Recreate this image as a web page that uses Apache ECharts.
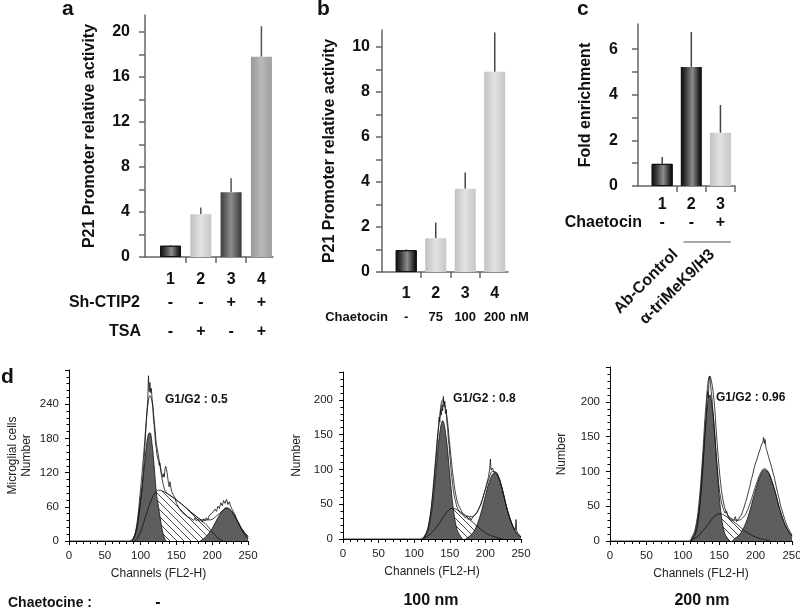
<!DOCTYPE html>
<html><head><meta charset="utf-8">
<script src="https://cdn.jsdelivr.net/npm/echarts@6/dist/echarts.min.js"></script>
<style>html,body{margin:0;padding:0;background:#fff}#c{width:800px;height:610px}</style>
</head><body><div id="c"></div>
<script>
// ---------- Panel a ----------
const aCats = ['1','2','3','4'];
const aVals = [1.0, 3.8, 5.75, 17.8];
const aErr  = [1.05, 4.4, 7.0, 20.5];
const aShCtip2 = ['-','-','+','+'];
const aTsa = ['-','+','-','+'];
const aYTicks = [0,2,4,6,8,10,12,14,16,18,20];
const aYLabels = [0,4,8,12,16,20];
// ---------- Panel b ----------
const bCats = ['1','2','3','4'];
const bVals = [0.97, 1.5, 3.7, 8.9];
const bErr  = [1.0, 2.2, 4.42, 10.65];
const bDose = ['-','75','100','200'];
const bYTicks = [0,1,2,3,4,5,6,7,8,9,10];
const bYLabels = [0,2,4,6,8,10];
// ---------- Panel c ----------
const cCats = ['1','2','3'];
const cVals = [0.97, 5.22, 2.33];
const cErr  = [1.27, 6.75, 3.55];
const cChaet = ['-','-','+'];
const cAb = ['Ab-Control','α-triMeK9/H3'];
const cYTicks = [0,1,2,3,4,5,6];
const cYLabels = [0,2,4,6];
// ---------- Panel d (cell cycle histograms) ----------
const dXTicks = [0,50,100,150,200,250];
const d1Raw = [[0,0],[85,0],[88,2],[90,5],[92,10],[94,18],[96,30],[98,48],[100,68],[102,92],[104,125],[106,165],[108,210],[110,248],[111,290],[112,262],[113,278],[114,260],[115,268],[116,250],[117,238],[118,212],[119,202],[120,186],[121,170],[122,162],[123,150],[124,153],[125,140],[126,133],[127,137],[128,128],[129,122],[130,116],[131,112],[132,118],[133,112],[134,126],[135,131],[136,127],[137,120],[138,110],[139,101],[140,95],[141,104],[142,97],[143,88],[144,91],[146,80],[148,76],[150,66],[152,63],[154,57],[156,56],[158,50],[160,53],[162,46],[164,49],[166,42],[168,45],[170,40],[172,43],[174,36],[176,41],[178,35],[180,39],[182,34],[184,38],[186,33],[188,39],[190,35],[192,41],[194,37],[196,45],[198,42],[200,49],[202,46],[204,56],[206,52],[208,61],[210,57],[212,67],[214,62],[216,71],[218,66],[220,73],[222,64],[224,69],[226,60],[228,57],[230,50],[232,46],[234,38],[236,35],[238,28],[240,23],[242,18],[244,14],[246,10],[248,7],[250,4]];
const d1G1 = [[88,0],[90,4],[93,15],[96,35],[99,65],[102,95],[105,128],[108,165],[111,188],[113,190],[116,170],[119,130],[122,85],[125,60],[128,35],[131,15],[134,3],[136,0]];
const d1S = [[92,0],[96,6],[100,16],[105,35],[110,55],[115,72],[120,84],[125,89],[130,88],[140,81],[150,72],[160,62],[170,51],[180,41],[190,31],[195,24],[200,16],[205,9],[210,3],[215,0]];
const d1G2 = [[183,0],[186,2],[190,6],[195,13],[200,22],[205,34],[210,45],[215,54],[220,58],[225,55],[230,47],[235,36],[240,24],[245,15],[250,8]];
const d1Fit = [[88,0],[90,4],[93,17],[96,41],[99,79],[102,119],[105,163],[108,212],[111,247],[113,255],[116,244],[119,212],[122,171],[125,149],[128,124],[131,103],[134,89],[137,84],[140,81],[150,72],[160,62],[170,51],[180,41],[185,37],[190,37],[195,37],[200,38],[205,43],[210,48],[215,54],[220,58],[225,55],[230,47],[235,36],[240,24],[245,15],[250,8]];

const d2Raw = [[0,0],[110,0],[113,2],[115,4],[118,10],[120,18],[122,30],[124,45],[126,66],[128,90],[130,115],[132,140],[134,160],[135,175],[136,168],[137,186],[138,178],[139,193],[140,184],[141,205],[142,190],[143,198],[144,180],[145,186],[146,166],[147,160],[148,142],[149,135],[150,120],[151,110],[152,96],[153,88],[154,78],[155,70],[156,64],[157,58],[158,55],[159,50],[160,46],[162,42],[164,38],[166,40],[168,35],[170,33],[172,30],[174,33],[176,28],[178,31],[180,27],[182,31],[184,34],[186,32],[188,38],[190,42],[192,40],[194,50],[196,57],[198,65],[200,72],[202,80],[204,88],[206,100],[207,115],[208,99],[210,102],[212,96],[214,98],[216,95],[218,90],[220,86],[222,78],[224,71],[226,62],[228,53],[230,45],[232,38],[234,31],[236,25],[238,20],[240,16],[242,13],[243,28],[244,11],[246,8],[248,6],[250,3]];
const d2G1 = [[113,0],[115,4],[120,14],[125,43],[130,92],[135,145],[140,170],[145,145],[150,92],[155,43],[160,14],[165,4],[168,0]];
const d2S = [[110,0],[120,5],[130,15],[140,30],[150,43],[155,44],[160,42],[170,35],[180,26],[190,17],[200,9],[210,4],[220,1],[225,0]];
const d2G2 = [[172,0],[175,2],[180,6],[185,13],[190,25],[195,42],[200,62],[205,81],[210,93],[213,95],[215,94],[220,84],[225,66],[230,45],[235,28],[240,15],[245,7],[250,3]];
const d2Fit = [[113,0],[115,4],[120,19],[125,53],[130,107],[135,167],[140,200],[145,182],[150,135],[155,87],[160,56],[165,43],[170,35],[175,33],[180,32],[185,34],[190,42],[195,55],[200,71],[205,87],[210,97],[215,96],[220,85],[225,66],[230,45],[235,28],[240,15],[245,7],[250,3]];

const d3Raw = [[0,0],[110,0],[112,2],[115,5],[118,12],[120,20],[122,35],[124,55],[126,80],[128,110],[130,145],[132,175],[133,200],[134,215],[135,205],[136,230],[137,237],[138,225],[139,215],[140,206],[141,190],[142,181],[143,165],[144,150],[145,136],[146,125],[147,110],[148,98],[149,86],[150,76],[151,68],[152,62],[153,56],[154,52],[155,48],[156,45],[158,40],[160,43],[162,36],[164,38],[166,33],[168,35],[170,30],[172,35],[174,28],[176,31],[178,33],[180,37],[182,42],[184,48],[186,55],[188,62],[190,70],[192,78],[194,88],[196,95],[198,105],[200,112],[202,118],[204,125],[206,131],[208,138],[210,142],[211,149],[212,140],[213,146],[214,136],[215,131],[216,128],[218,120],[220,113],[222,106],[224,98],[226,90],[228,80],[230,70],[232,62],[234,52],[236,45],[238,38],[240,31],[242,25],[244,20],[246,16],[248,12],[250,8]];
const d3G1 = [[110,0],[112,3],[117,13],[122,44],[127,105],[132,177],[137,210],[142,177],[147,105],[152,44],[157,13],[162,3],[165,0]];
const d3S = [[110,0],[112,1],[117,4],[122,8],[127,14],[132,20],[137,27],[142,34],[147,38],[152,39],[157,37],[162,34],[167,30],[172,26],[177,22],[182,17],[187,13],[192,10],[197,7],[202,5],[207,3],[212,2],[217,1],[220,0]];
const d3G2 = [[168,0],[172,4],[177,8],[182,16],[187,27],[192,43],[197,62],[202,80],[207,95],[212,102],[217,99],[222,87],[227,70],[232,50],[237,33],[242,20],[247,11],[250,7]];
const d3Fit = [[110,0],[112,4],[117,17],[122,52],[127,119],[132,197],[137,237],[142,211],[147,143],[152,83],[157,50],[162,37],[167,30],[172,30],[177,30],[182,33],[187,40],[192,53],[197,69],[202,85],[207,98],[212,104],[217,100],[222,87],[227,70],[232,50],[237,33],[242,20],[247,11],[250,7]];

// ---------- styling ----------
const FF = "'Liberation Sans', Arial, Helvetica, sans-serif";
const chart = echarts.init(document.getElementById('c'), null, {renderer: 'canvas'});
const grad = stops => new echarts.graphic.LinearGradient(0, 0, 1, 0, stops.map(([o, c]) => ({offset: o, color: c})));
const S_BLACKCYL = [[0,'#0c0c0c'],[0.2,'#333'],[0.55,'#8c8c8c'],[0.85,'#2a2a2a'],[1,'#050505']];
const S_LIGHT = [[0,'#c2c2c2'],[0.5,'#e2e2e2'],[1,'#c6c6c6']];
const S_DARK = [[0,'#3c3c3c'],[0.5,'#8c8c8c'],[1,'#383838']];
const S_MID = [[0,'#989898'],[0.5,'#b9b9b9'],[1,'#9e9e9e']];
const aStyles = [S_BLACKCYL, S_LIGHT, S_DARK, S_MID];
const bStyles = [S_BLACKCYL, S_LIGHT, S_LIGHT, S_LIGHT];
const cStyles = [S_BLACKCYL, S_BLACKCYL, S_LIGHT];

const hatch = document.createElement('canvas');
hatch.width = 7; hatch.height = 7;
(function(){ const g = hatch.getContext('2d'); g.fillStyle = '#fff'; g.fillRect(0,0,7,7);
  g.strokeStyle = '#333'; g.lineWidth = 0.9; g.beginPath();
  g.moveTo(-1,-1); g.lineTo(8,8); g.moveTo(-1,6); g.lineTo(1,8); g.moveTo(6,-1); g.lineTo(8,1); g.stroke(); })();

const barAxisLine = {show: true, lineStyle: {color: '#666', width: 1.5}};
const barTick = {show: true, length: 6, lineStyle: {color: '#666', width: 1.5}};
const boldTxt = (size) => ({fontFamily: FF, fontWeight: 'bold', fontSize: size, color: '#111'});

const grids = [
  {left: 145, top: 15, width: 128, height: 242},
  {left: 382, top: 30, width: 126, height: 242},
  {left: 638, top: 24, width: 97, height: 162},
  {left: 69, top: 370, width: 179, height: 171},
  {left: 343, top: 372, width: 178, height: 167},
  {left: 610, top: 367, width: 182, height: 174}
].map(g => Object.assign({outerBoundsMode: 'none', containLabel: false}, g));

function mainX(grid, min, max, cats, tickVals, margin) {
  return {type: 'value', gridIndex: grid, position: 'bottom', min, max, nameMoveOverlap: false,
    axisLine: barAxisLine, splitLine: {show: false},
    axisTick: Object.assign({customValues: tickVals}, barTick),
    axisLabel: Object.assign({customValues: cats.map((c, i) => i + 1), margin, formatter: v => cats[Math.round(v) - 1]}, boldTxt(16))};
}
function rowX(grid, min, max, labels, offset, name, nameGap, size) {
  return {type: 'value', gridIndex: grid, position: 'bottom', min, max, offset, nameMoveOverlap: false,
    name, nameLocation: 'start', nameGap, nameTextStyle: boldTxt(size),
    axisLine: {show: false}, axisTick: {show: false}, splitLine: {show: false},
    axisLabel: Object.assign({customValues: labels.map((c, i) => i + 1), margin: 0, verticalAlign: 'middle',
      formatter: v => labels[Math.round(v) - 1]}, boldTxt(size))};
}
function barY(grid, max, ticks, labels, name, nameGap, margin) {
  return {type: 'value', gridIndex: grid, position: 'left', min: 0, max, nameMoveOverlap: false,
    name, nameLocation: 'middle', nameGap, nameTextStyle: boldTxt(16),
    axisLine: barAxisLine, splitLine: {show: false},
    axisTick: Object.assign({customValues: ticks}, barTick),
    axisLabel: Object.assign({customValues: labels, margin}, boldTxt(16))};
}
const histLbl = {fontFamily: FF, fontSize: 11.5, color: '#222'};
function histX(grid) {
  return {type: 'value', gridIndex: grid, position: 'bottom', min: 0, max: 250, interval: 50, nameMoveOverlap: false,
    name: 'Channels (FL2-H)', nameLocation: 'middle', nameGap: 27, nameTextStyle: {fontFamily: FF, fontSize: 12, color: '#222'},
    axisLine: {lineStyle: {color: '#000', width: 1}}, splitLine: {show: false},
    axisTick: {length: 4, lineStyle: {color: '#000'}},
    minorTick: {show: true, splitNumber: 5, length: 3, lineStyle: {color: '#000'}},
    axisLabel: Object.assign({margin: 9, customValues: dXTicks}, histLbl)};
}
function histY(grid, max, interval, labelMax, name, nameGap) {
  return {type: 'value', gridIndex: grid, position: 'left', min: 0, max, interval, nameMoveOverlap: false,
    name, nameLocation: 'middle', nameGap, nameTextStyle: {fontFamily: FF, fontSize: 12, color: '#222', lineHeight: 14},
    axisLine: {show: true, lineStyle: {color: '#000', width: 1}}, splitLine: {show: false},
    axisTick: {show: true, length: 4, lineStyle: {color: '#000'}},
    minorTick: {show: true, splitNumber: 5, length: 2.5, lineStyle: {color: '#000'}},
    axisLabel: Object.assign({margin: 10, formatter: v => v > labelMax ? '' : String(v)}, histLbl)};
}

const xAxis = [
  mainX(0, 0.158, 4.383, aCats, [1.5, 2.5, 3.5], 15),           // 0
  rowX(0, 0.158, 4.383, aShCtip2, 46, 'Sh-CTIP2', 5, 16),        // 1
  rowX(0, 0.158, 4.383, aTsa, 75, 'TSA', 4, 16),                  // 2
  mainX(1, 0.178, 4.45, bCats, [1.5, 2.5, 3.5], 14),            // 3
  rowX(1, 0.178, 4.45, bDose, 45, 'Chaetocin', -6, 13),          // 4
  {type: 'value', gridIndex: 1, position: 'bottom', min: 0.178, max: 4.45, offset: 45, nameMoveOverlap: false, name: 'nM', nameLocation: 'end', nameGap: 2,
    nameTextStyle: boldTxt(13), axisLine: {show: false}, axisTick: {show: false}, axisLabel: {show: false}, splitLine: {show: false}}, // 5
  mainX(2, 0.17, 3.5, cCats, [1.5, 2.5, 3.5], 11),              // 6
  rowX(2, 0.17, 3.5, cChaet, 37, 'Chaetocin', -4, 16),           // 7
  {type: 'value', gridIndex: 2, position: 'bottom', min: 0.17, max: 3.5, offset: 52, nameMoveOverlap: false,
    axisLine: {show: false}, axisTick: {show: false}, splitLine: {show: false},
    axisLabel: Object.assign({customValues: [1.46, 2.72], rotate: 45, margin: 14,
      formatter: v => v < 2.2 ? cAb[0] : cAb[1]}, boldTxt(16))},   // 8
  histX(3), histX(4), histX(5)                                   // 9,10,11
];
const yAxis = [
  barY(0, 21.5, aYTicks, aYLabels, 'P21 Promoter relative activity', 47, 15),
  barY(1, 10.76, bYTicks, bYLabels, 'P21 Promoter relative activity', 44, 12),
  barY(2, 7.1, cYTicks, cYLabels, 'Fold enrichment', 44, 20),
  histY(3, 300, 60, 240, 'Microglial cells\nNumber', 35),
  histY(4, 240, 50, 200, 'Number', 39),
  histY(5, 250, 50, 200, 'Number', 41)
];

function barSeries(xi, yi, vals, styles) {
  return {type: 'bar', xAxisIndex: xi, yAxisIndex: yi, barWidth: 21, z: 3,
    data: vals.map((v, i) => ({value: [i + 1, v], itemStyle: {color: grad(styles[i]), borderColor: i === 0 ? '#111' : 'transparent', borderWidth: i === 0 ? 1 : 0}}))};
}
function errSeries(xi, yi, vals, errs, color) {
  return {type: 'custom', xAxisIndex: xi, yAxisIndex: yi, z: 2,
    data: vals.map((v, i) => [i + 1, v, errs[i]]),
    renderItem: (p, api) => {
      const a = api.coord([api.value(0), api.value(1)]);
      const b = api.coord([api.value(0), api.value(2)]);
      return {type: 'line', shape: {x1: a[0], y1: a[1], x2: b[0], y2: b[1]}, style: {stroke: color, lineWidth: 1.5}};
    }};
}
function histSeries(xi, yi, raw, g1, s, g2, fit) {
  const base = {type: 'line', xAxisIndex: xi, yAxisIndex: yi, showSymbol: false, symbol: 'none', silent: true, clip: true};
  return [
    Object.assign({}, base, {data: s, smooth: 0.4, lineStyle: {width: 0}, areaStyle: {color: {image: hatch, repeat: 'repeat'}, opacity: 1}}),
    Object.assign({}, base, {data: g1, smooth: 0.4, lineStyle: {color: '#111', width: 0.8}, areaStyle: {color: '#5e5e5e', opacity: 1}}),
    Object.assign({}, base, {data: g2, smooth: 0.4, lineStyle: {color: '#111', width: 0.8}, areaStyle: {color: '#5e5e5e', opacity: 1}}),
    Object.assign({}, base, {data: s, smooth: 0.4, lineStyle: {color: '#111', width: 0.8}}),
    Object.assign({}, base, {data: fit, smooth: 0.4, lineStyle: {color: '#111', width: 0.8}}),
    Object.assign({}, base, {data: raw, lineStyle: {color: '#111', width: 0.8}})
  ];
}

const series = [
  errSeries(0, 0, aVals, aErr, '#555'), barSeries(0, 0, aVals, aStyles),
  errSeries(3, 1, bVals, bErr, '#444'), barSeries(3, 1, bVals, bStyles),
  errSeries(6, 2, cVals, cErr, '#444'), barSeries(6, 2, cVals, cStyles),
  ...histSeries(9, 3, d1Raw, d1G1, d1S, d1G2, d1Fit),
  ...histSeries(10, 4, d2Raw, d2G1, d2S, d2G2, d2Fit),
  ...histSeries(11, 5, d3Raw, d3G1, d3S, d3G2, d3Fit)
];

chart.setOption({animation: false, backgroundColor: '#fff', grid: grids, xAxis, yAxis, series});

function txt(text, x, y, font, align) {
  return {type: 'text', x, y, style: {text, font, fill: '#111', align: align || 'left', textAlign: align || 'left', verticalAlign: 'middle', textVerticalAlign: 'middle'}};
}
const bx1 = chart.convertToPixel({xAxisIndex: 6}, 1.73);
const bx2 = chart.convertToPixel({xAxisIndex: 6}, 3.36);
const graphic = [
  txt('a', 62, 9, "bold 21px " + FF), txt('b', 317, 9, "bold 21px " + FF),
  txt('c', 577, 9, "bold 21px " + FF), txt('d', 1, 377, "bold 21px " + FF),
  txt('G1/G2 : 0.5', 165, 400, "bold 12px " + FF),
  txt('G1/G2 : 0.8', 453, 399, "bold 12px " + FF),
  txt('G1/G2 : 0.96', 716, 398, "bold 12px " + FF),
  txt('Chaetocine :', 8, 603, "bold 14px " + FF),
  txt('-', 158, 603, "bold 16px " + FF, 'center'),
  txt('100 nm', 431, 601, "bold 16px " + FF, 'center'),
  txt('200 nm', 702, 601, "bold 16px " + FF, 'center'),
  {type: 'line', shape: {x1: bx1, y1: 242, x2: bx2, y2: 242}, style: {stroke: '#555', lineWidth: 1.2}}
];
chart.setOption({graphic});
</script></body></html>
